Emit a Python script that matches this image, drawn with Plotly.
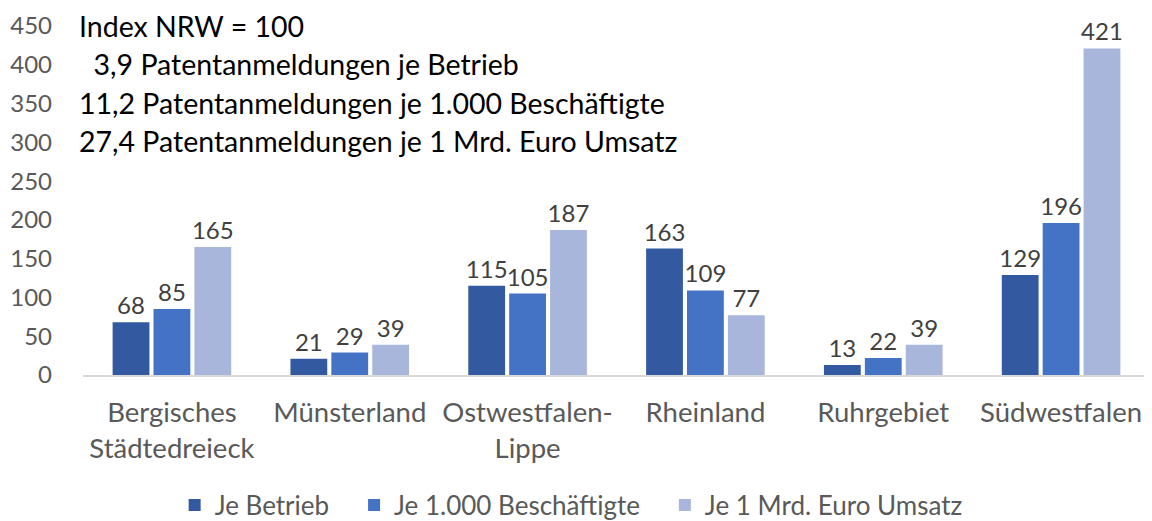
import plotly.graph_objects as go

regions = [
    "Bergisches<br>Städtedreieck",
    "Münsterland",
    "Ostwestfalen-<br>Lippe",
    "Rheinland",
    "Ruhrgebiet",
    "Südwestfalen",
]
je_betrieb = [68, 21, 115, 163, 13, 129]
je_beschaeftigte = [85, 29, 105, 109, 22, 196]
je_umsatz = [165, 39, 187, 77, 39, 421]

series = [
    ("Je Betrieb", je_betrieb, "#335AA1"),
    ("Je 1.000 Beschäftigte", je_beschaeftigte, "#4472C4"),
    ("Je 1 Mrd. Euro Umsatz", je_umsatz, "#A9B6DB"),
]

note_lines = [
    "Index NRW = 100",
    "&nbsp;&nbsp;3,9 Patentanmeldungen je Betrieb",
    "11,2 Patentanmeldungen je 1.000 Beschäftigte",
    "27,4 Patentanmeldungen je 1 Mrd. Euro Umsatz",
]

FONT = "Lato, Open Sans, sans-serif"
PAD = "&nbsp;" * 3

fig = go.Figure()
for name, values, color in series:
    fig.add_trace(
        go.Bar(
            x=regions,
            y=values,
            name=name + PAD,
            marker=dict(color=color, line=dict(width=0)),
            text=values,
            textposition="outside",
            cliponaxis=False,
            textfont=dict(size=24, color="#404040", family=FONT),
        )
    )

for i, line in enumerate(note_lines):
    fig.add_annotation(
        x=0, y=1.0 - i * 0.11, xref="paper", yref="paper",
        xanchor="left", yanchor="middle",
        xshift=-6,
        text=line,
        showarrow=False,
        font=dict(size=28.5, color="#000000", family=FONT),
    )

# page is drawn with an 8px body margin, so the figure is sized a bit smaller
fig.update_layout(
    width=1144,
    height=513,
    barmode="group",
    bargap=0.31,
    bargroupgap=0.1,
    plot_bgcolor="white",
    paper_bgcolor="white",
    margin=dict(l=75, r=2, t=18, b=146, autoexpand=False),
    font=dict(family=FONT, color="#595959", size=24),
    uniformtext=dict(minsize=24, mode="show"),
    showlegend=True,
    legend=dict(
        orientation="h",
        xref="container", yref="container",
        x=0.501, xanchor="center",
        y=0.031, yanchor="middle",
        font=dict(size=26, color="#595959"),
        itemwidth=30,
        traceorder="normal",
    ),
)

fig.update_yaxes(
    range=[0, 450],
    dtick=50,
    showgrid=False,
    zeroline=False,
    showline=False,
    ticks="",
    ticklabelstandoff=30,
    tickfont=dict(size=24, color="#595959"),
)
fig.update_xaxes(
    showline=True,
    linecolor="#D9D9D9",
    linewidth=1.5,
    ticks="",
    ticklabelstandoff=12,
    tickfont=dict(size=27.5, color="#595959"),
)

fig.write_html("out.html")
